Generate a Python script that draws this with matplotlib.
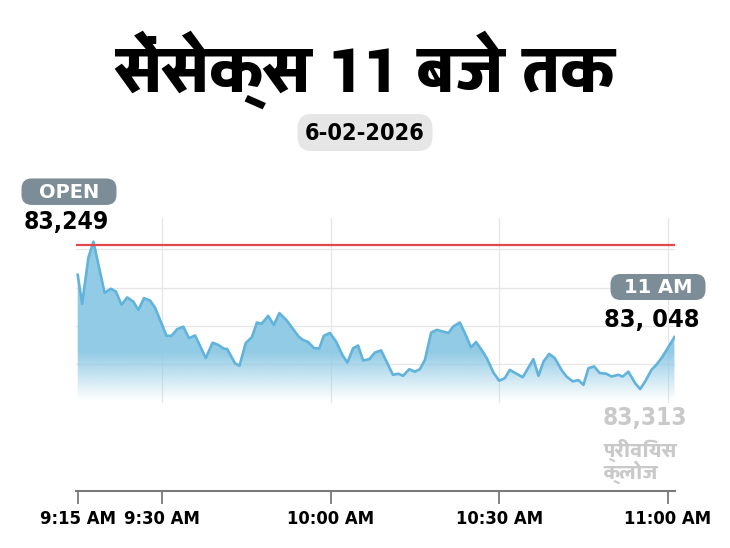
import numpy as np
import matplotlib
matplotlib.use('Agg')
import matplotlib.pyplot as plt
from matplotlib.patches import FancyBboxPatch
from matplotlib.transforms import IdentityTransform
from matplotlib.colors import to_rgb
from matplotlib import font_manager
from matplotlib.font_manager import FontProperties
from matplotlib.ft2font import FT2Font

# data (minutes after 9:15)
minutes = [0.0, 0.8, 1.9, 2.8, 4.8, 5.9, 6.8, 7.8, 8.8, 9.9,
           10.8, 11.8, 12.9, 13.8, 15.8, 16.7, 17.7, 18.8, 19.8, 20.9,
           22.8, 24.0, 25.0, 26.0, 26.6, 28.0, 28.8, 29.9, 31.0, 31.9,
           32.7, 33.9, 34.9, 35.9, 37.2, 39.3, 40.1, 41.0, 42.1, 43.0,
           43.8, 44.9, 46.0, 47.1, 48.0, 49.0, 49.9, 50.8, 51.9, 52.9,
           54.0, 56.1, 57.1, 57.9, 59.0, 60.0, 60.9, 61.8, 62.9, 63.9,
           65.0, 66.0, 66.8, 68.0, 68.9, 70.0, 70.9, 71.9, 72.8, 74.0,
           75.0, 76.0, 76.9, 78.1, 79.2, 81.1, 82.0, 82.9, 83.9, 84.9,
           86.1, 87.0, 88.1, 89.1, 90.0, 90.9, 91.9, 92.9, 94.1, 95.0,
           96.2, 97.0, 98.0, 99.2, 100.1, 101.0, 102.1, 103.0, 103.9, 104.8,
           106.2]
sensex = [83227, 83144, 83276, 83322, 83175, 83187, 83179, 83141, 83162, 83150,
          83126, 83160, 83153, 83132, 83052, 83052, 83071, 83078, 83045, 83053,
          82988, 83032, 83026, 83015, 83014, 82973, 82966, 83031, 83048, 83090,
          83086, 83109, 83083, 83117, 83096, 83050, 83040, 83034, 83016, 83016,
          83052, 83060, 83035, 82997, 82975, 83016, 83024, 82981, 82985, 83004,
          83010, 82940, 82943, 82937, 82956, 82949, 82956, 82983, 83061, 83069,
          83064, 83060, 83078, 83090, 83060, 83019, 83034, 83011, 82988, 82946,
          82923, 82930, 82954, 82943, 82933, 82985, 82937, 82978, 83000, 82988,
          82954, 82935, 82921, 82925, 82911, 82959, 82964, 82945, 82943, 82935,
          82940, 82935, 82949, 82916, 82899, 82921, 82954, 82969, 82988, 83011,
          83048]
prev_close = 83313
tick_minutes = [0, 15, 45, 75, 105]
tick_labels = ['9:15 AM', '9:30 AM', '10:00 AM', '10:30 AM', '11:00 AM']

title = 'सेंसेक्स 11 बजे तक'
date_text = '6-02-2026'
open_text = '83,249'
last_text = '83, 048'
close_text = '83,313'
close_label = ['प्रीवियस', 'क्लोज']


def wnum(w):
    return w if isinstance(w, int) else font_manager.weight_dict.get(w, 400)


stretch_rank = {'ultra-condensed': 1, 'extra-condensed': 0,
                'condensed': 2, 'semi-condensed': 3}

# look for a devanagari font and a condensed latin one
deva_files = []
narrow_files = []
for f in font_manager.fontManager.ttflist:
    try:
        cmap = FT2Font(f.fname).get_charmap()
    except Exception:
        continue
    if 0x0938 in cmap:
        deva_files.append((wnum(f.weight), f.fname))
    if 0x41 in cmap:
        if f.stretch in stretch_rank:
            r = stretch_rank[f.stretch]
        elif 'ondensed' in f.name or 'arrow' in f.name:
            r = 2
        else:
            continue
        narrow_files.append((r, abs(wnum(f.weight) - 700), f.fname))

if deva_files:
    deva_files.sort()
    hindi = FontProperties(fname=deva_files[-1][1])
else:
    hindi = FontProperties(family='DejaVu Sans', weight='bold')
if narrow_files:
    narrow_files.sort()
    narrow = FontProperties(fname=narrow_files[0][2])
else:
    narrow = FontProperties(family='Liberation Sans', weight='bold')

line_c = '#62b3dc'
fill_c = '#92cbe5'
pill_c = '#7c8d97'

W, H = 730, 548
fig = plt.figure(figsize=(W / 100, H / 100), dpi=100)
renderer = fig.canvas.get_renderer()


def fx(x):
    return x / W


def fy(y):
    return 1 - y / H


def nf(size):
    p = narrow.copy()
    p.set_size(size)
    return p


def hf(size):
    p = hindi.copy()
    p.set_size(size)
    return p


def fit(t, width):
    # shrink a text so it is no wider than given
    w = t.get_window_extent(renderer).width
    if w > width:
        t.set_fontsize(t.get_fontsize() * width / w)


ax = fig.add_axes([fx(76), fy(403), fx(675) - fx(76), fy(218) - fy(403)])
ymin, ymax = 82859, 83390
ax.set_xlim(-0.3, 106.3)
ax.set_ylim(ymin, ymax)

x = np.array(minutes)
y = np.array(sensex)

# gradient area under the line
poly = ax.fill_between(x, y, ymin, color='none', lw=0)
yy = np.linspace(ymax, ymin, 300)
alpha = np.clip((yy - 82866) / (83005 - 82866), 0, 1)
grad = np.zeros((300, 1, 4))
grad[..., :3] = to_rgb(fill_c)
grad[..., 3] = alpha[:, None]
im = ax.imshow(grad, extent=[-0.3, 106.3, ymin, ymax], aspect='auto',
               origin='upper', zorder=2)
im.set_clip_path(poly.get_paths()[0], ax.transData)

ax.plot(x, y, color=line_c, lw=1.9, zorder=3, solid_joinstyle='round')
ax.axhline(prev_close, color='#e2474b', lw=1.6, zorder=4)

# grid
ax.set_yticks(np.arange(82970, 83310, 110))
ax.yaxis.grid(True, color='#e6e6e6', lw=0.9)
for m in tick_minutes[1:]:
    ax.axvline(m, color='#e6e6e6', lw=0.9, zorder=0)
ax.set_axisbelow(True)

for s in ['top', 'left', 'right']:
    ax.spines[s].set_visible(False)
ax.spines['bottom'].set_position(('outward', 63))
ax.spines['bottom'].set_color('#7a7a7a')
ax.spines['bottom'].set_linewidth(1.5)
ax.set_xticks(tick_minutes)
labels = ax.set_xticklabels(tick_labels, fontproperties=nf(17))
ax.tick_params(axis='x', length=9, width=1.3, color='#7a7a7a', pad=5)
ax.tick_params(axis='y', length=0, labelleft=False)
# same size for all tick labels, set by the widest one
fit(labels[2], 88)
for t in labels:
    t.set_fontsize(labels[2].get_fontsize())

# texts
fig.text(fx(365), fy(70), title, ha='center', va='center',
         fontproperties=hf(49))


def pill(cx, cy, w, h, color):
    # box in pixel coords (top-down y)
    p = FancyBboxPatch((cx - w / 2, H - cy - h / 2), w, h,
                       boxstyle='round,pad=0,rounding_size=%g' % (h / 2.6),
                       fc=color, ec='none', transform=IdentityTransform())
    fig.add_artist(p)


pill(365, 132.5, 135, 37, '#e6e6e6')
t = fig.text(fx(365), fy(133), date_text, ha='center', va='center',
             fontproperties=nf(20))
fit(t, 120)

pill(69, 191.7, 95, 26.5, pill_c)
fig.text(fx(69), fy(192), 'OPEN', ha='center', va='center', fontsize=14,
         fontweight='bold', color='white')
t = fig.text(fx(66), fy(222), open_text, ha='center', va='center',
             fontproperties=nf(23))
fit(t, 86)

pill(658, 287, 95, 26, pill_c)
fig.text(fx(658), fy(287), '11 AM', ha='center', va='center', fontsize=14,
         fontweight='bold', color='white')
t = fig.text(fx(700), fy(320), last_text, ha='right', va='center',
             fontproperties=nf(23))
fit(t, 96)

t = fig.text(fx(603), fy(418), close_text, ha='left', va='center',
             fontproperties=nf(23), color='#c9c9c9')
fit(t, 84)
fig.text(fx(603), fy(450), close_label[0], ha='left', va='center',
         fontproperties=hf(15), color='#c9c9c9')
fig.text(fx(603), fy(472), close_label[1], ha='left', va='center',
         fontproperties=hf(15), color='#c9c9c9')

fig.savefig('out.png', dpi=100)
